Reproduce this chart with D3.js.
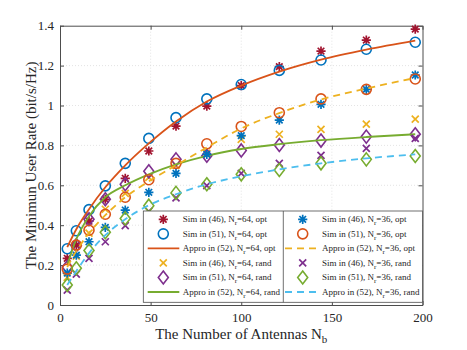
<!DOCTYPE html>
<html>
<head>
<meta charset="utf-8">
<script src="https://cdn.jsdelivr.net/npm/d3@7"></script>
<style>
  body { margin: 0; background: #fff; }
  text { font-family: "Liberation Serif", "Times New Roman", serif; fill: #262626; }
</style>
</head>
<body>
<div id="chart"></div>
<script>
// --- DATA ---
const antennas = [4, 9, 16, 25, 36, 49, 64, 81, 100, 121, 144, 169, 196];
const xTicks = [0, 50, 100, 150, 200];
const yTicks = [0, 0.2, 0.4, 0.6, 0.8, 1, 1.2, 1.4];

const sim46_64opt  = [0.234, 0.30, 0.42, 0.53, 0.635, 0.772, 0.897, 0.997, 1.10, 1.195, 1.273, 1.328, 1.383];
const sim51_64opt  = [0.282, 0.372, 0.478, 0.597, 0.71, 0.835, 0.939, 1.033, 1.105, 1.176, 1.228, 1.282, 1.317];
const appro_64opt  = [0.29, 0.38, 0.48, 0.59, 0.70, 0.81, 0.92, 1.02, 1.10, 1.17, 1.23, 1.28, 1.325];
const sim46_64rand = [0.138, 0.245, 0.36, 0.48, 0.56, 0.64, 0.70, 0.76, 0.83, 0.856, 0.88, 0.907, 0.932];
const sim51_64rand = [0.19, 0.30, 0.43, 0.53, 0.605, 0.67, 0.73, 0.748, 0.775, 0.802, 0.824, 0.844, 0.856];
const appro_64rand = [0.20, 0.33, 0.445, 0.54, 0.60, 0.655, 0.705, 0.748, 0.782, 0.806, 0.826, 0.842, 0.856];
const sim46_36opt  = [0.16, 0.25, 0.317, 0.389, 0.476, 0.565, 0.66, 0.755, 0.849, 0.927, 1.006, 1.081, 1.153];
const sim51_36opt  = [0.18, 0.30, 0.375, 0.455, 0.54, 0.628, 0.71, 0.808, 0.895, 0.964, 1.033, 1.081, 1.133];
const appro_36opt  = [0.19, 0.27, 0.36, 0.45, 0.54, 0.62, 0.70, 0.79, 0.885, 0.962, 1.03, 1.085, 1.138];
const sim46_36rand = [0.075, 0.155, 0.234, 0.317, 0.398, 0.47, 0.537, 0.598, 0.66, 0.71, 0.75, 0.785, 0.835];
const sim51_36rand = [0.10, 0.184, 0.273, 0.365, 0.434, 0.498, 0.562, 0.605, 0.655, 0.677, 0.71, 0.73, 0.747];
const appro_36rand = [0.10, 0.17, 0.26, 0.35, 0.43, 0.50, 0.555, 0.605, 0.645, 0.68, 0.71, 0.735, 0.755];

// matlab colours
const cBlue = "#0072BD", cOrange = "#D95319", cYellow = "#EDB120", cPurple = "#7E2F8E",
      cGreen = "#77AC30", cCyan = "#4DBEEE", cRed = "#A2142F";

const series = [
  { name: "Sim in (46)", nr: "64", tag: "opt",  type: "asterisk", color: cRed,    values: sim46_64opt },
  { name: "Sim in (51)", nr: "64", tag: "opt",  type: "circle",   color: cBlue,   values: sim51_64opt },
  { name: "Appro in (52)", nr: "64", tag: "opt",  type: "solid",  color: cOrange, values: appro_64opt },
  { name: "Sim in (46)", nr: "64", tag: "rand", type: "cross",    color: cYellow, values: sim46_64rand },
  { name: "Sim in (51)", nr: "64", tag: "rand", type: "diamond",  color: cPurple, values: sim51_64rand },
  { name: "Appro in (52)", nr: "64", tag: "rand", type: "solid",  color: cGreen,  values: appro_64rand },
  { name: "Sim in (46)", nr: "36", tag: "opt",  type: "asterisk", color: cBlue,   values: sim46_36opt },
  { name: "Sim in (51)", nr: "36", tag: "opt",  type: "circle",   color: cOrange, values: sim51_36opt },
  { name: "Appro in (52)", nr: "36", tag: "opt",  type: "dashed", color: cYellow, values: appro_36opt },
  { name: "Sim in (46)", nr: "36", tag: "rand", type: "cross",    color: cPurple, values: sim46_36rand },
  { name: "Sim in (51)", nr: "36", tag: "rand", type: "diamond",  color: cGreen,  values: sim51_36rand },
  { name: "Appro in (52)", nr: "36", tag: "rand", type: "dashed", color: cCyan,   values: appro_36rand }
];

// --- SETUP ---
const width = 467, height = 350;
const plot = { left: 60, right: 422.5, top: 25.7, bottom: 305 };

const svg = d3.select("#chart").append("svg")
  .attr("width", width).attr("height", height);

const x = d3.scaleLinear().domain([0, 200]).range([plot.left, plot.right]);
const y = d3.scaleLinear().domain([0, 1.4]).range([plot.bottom, plot.top]);

// grid
svg.append("g").selectAll("line").data(xTicks.slice(1, -1)).join("line")
  .attr("x1", d => x(d)).attr("x2", d => x(d))
  .attr("y1", plot.top).attr("y2", plot.bottom)
  .attr("stroke", "#d8d8d8").attr("stroke-width", 0.7).attr("stroke-dasharray", "1,2");
svg.append("g").selectAll("line").data(yTicks.slice(1, -1)).join("line")
  .attr("y1", d => y(d)).attr("y2", d => y(d))
  .attr("x1", plot.left).attr("x2", plot.right)
  .attr("stroke", "#d8d8d8").attr("stroke-width", 0.7).attr("stroke-dasharray", "1,2");

// axes (ticks point inward, like matlab)
const axisColor = "#4d4d4d";
const gx = svg.append("g").attr("transform", `translate(0,${plot.bottom})`)
  .call(d3.axisBottom(x).tickValues(xTicks).tickSizeInner(-4).tickSizeOuter(0).tickPadding(8));
const gy = svg.append("g").attr("transform", `translate(${plot.left},0)`)
  .call(d3.axisLeft(y).tickValues(yTicks).tickFormat(d3.format("~g")).tickSizeInner(-4).tickSizeOuter(0).tickPadding(6));
const gx2 = svg.append("g").attr("transform", `translate(0,${plot.top})`)
  .call(d3.axisTop(x).tickValues(xTicks).tickSizeInner(-4).tickSizeOuter(0).tickFormat(""));
const gy2 = svg.append("g").attr("transform", `translate(${plot.right},0)`)
  .call(d3.axisRight(y).tickValues(yTicks).tickSizeInner(-4).tickSizeOuter(0).tickFormat(""));
[gx, gy, gx2, gy2].forEach(g => {
  g.selectAll("path, line").attr("stroke", axisColor);
  g.selectAll("text").style("font-family", "Liberation Serif, serif").style("font-size", "13px").attr("fill", "#333");
});

// axis labels
const xl = svg.append("text")
  .attr("x", (plot.left + plot.right) / 2).attr("y", 339)
  .attr("text-anchor", "middle").style("font-size", "15px");
xl.append("tspan").text("The Number of Antennas N");
xl.append("tspan").attr("dy", 4).style("font-size", "11px").text("b");

svg.append("text")
  .attr("transform", `translate(31,${(plot.top + plot.bottom) / 2}) rotate(-90)`)
  .attr("text-anchor", "middle").attr("dy", "0.35em")
  .style("font-size", "15px")
  .text("The Minimun User Rate (bit/s/Hz)");

// --- MARKERS & LINES ---
function drawMarker(g, type, color, cx, cy) {
  if (type === "circle") {
    g.append("circle").attr("cx", cx).attr("cy", cy).attr("r", 5)
      .attr("fill", "none").attr("stroke", color).attr("stroke-width", 1.6);
  } else if (type === "diamond") {
    g.append("path").attr("d", `M${cx},${cy - 6.5}L${cx + 5},${cy}L${cx},${cy + 6.5}L${cx - 5},${cy}Z`)
      .attr("fill", "none").attr("stroke", color).attr("stroke-width", 1.6);
  } else if (type === "cross") {
    const s = 3.5;
    g.append("path").attr("d", `M${cx - s},${cy - s}L${cx + s},${cy + s}M${cx - s},${cy + s}L${cx + s},${cy - s}`)
      .attr("stroke", color).attr("stroke-width", 1.7);
  } else if (type === "asterisk") {
    const s = 4.6, d = 3.3;
    g.append("path").attr("d",
      `M${cx},${cy - s}L${cx},${cy + s}M${cx - s},${cy}L${cx + s},${cy}` +
      `M${cx - d},${cy - d}L${cx + d},${cy + d}M${cx - d},${cy + d}L${cx + d},${cy - d}`)
      .attr("stroke", color).attr("stroke-width", 1.7);
  }
}

const line = d3.line().x(d => x(d[0])).y(d => y(d[1])).curve(d3.curveMonotoneX);

const marks = svg.append("g");
series.forEach(s => {
  const pts = antennas.map((n, i) => [n, s.values[i]]);
  if (s.type === "solid" || s.type === "dashed") {
    marks.append("path").datum(pts).attr("d", line)
      .attr("fill", "none").attr("stroke", s.color).attr("stroke-width", 1.8)
      .attr("stroke-dasharray", s.type === "dashed" ? "7,5" : null);
  } else {
    pts.forEach(p => drawMarker(marks, s.type, s.color, x(p[0]), y(p[1])));
  }
});

// --- LEGEND ---
const lg = { left: 143.3, right: 422.5, top: 211, bottom: 302.3, divider: 283.3 };
const legend = svg.append("g");
legend.append("rect")
  .attr("x", lg.left).attr("y", lg.top)
  .attr("width", lg.right - lg.left).attr("height", lg.bottom - lg.top)
  .attr("fill", "#fff").attr("stroke", axisColor).attr("stroke-width", 0.8);
legend.append("line")
  .attr("x1", lg.divider).attr("x2", lg.divider).attr("y1", lg.top).attr("y2", lg.bottom)
  .attr("stroke", axisColor).attr("stroke-width", 0.8);

const colX = [{ l1: 147.7, l2: 179.3, m: 163.3, t: 182.7 }, { l1: 285, l2: 319.3, m: 302.7, t: 322 }];
const rowY = d3.scaleLinear().domain([0, 5]).range([219.3, 292]);

series.forEach((s, i) => {
  const col = colX[Math.floor(i / 6)];
  const cy = rowY(i % 6);
  if (s.type === "solid" || s.type === "dashed") {
    legend.append("line").attr("x1", col.l1).attr("x2", col.l2).attr("y1", cy).attr("y2", cy)
      .attr("stroke", s.color).attr("stroke-width", 1.8)
      .attr("stroke-dasharray", s.type === "dashed" ? "7,5" : null);
  } else {
    drawMarker(legend, s.type, s.color, col.m, cy);
  }
  const t = legend.append("text").attr("x", col.t).attr("y", cy + 3).style("font-size", "9px");
  t.append("tspan").text(`${s.name}, N`);
  t.append("tspan").attr("dy", 3).style("font-size", "7px").text("r");
  t.append("tspan").attr("dy", -3).text(`=${s.nr}, ${s.tag}`);
});
</script>
</body>
</html>
